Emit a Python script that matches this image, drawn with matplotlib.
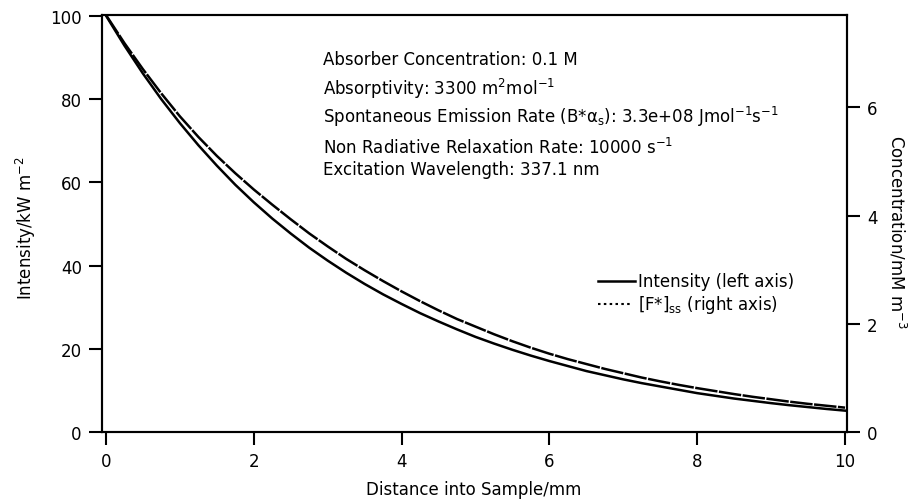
import numpy as np
import matplotlib
matplotlib.use('Agg')
import matplotlib.pyplot as plt
from matplotlib.lines import Line2D

plt.rcParams['font.family'] = ['DejaVu Sans']
plt.rcParams['mathtext.default'] = 'regular'

# distancia (mm), passo de 0.25
distance = [0, 0.25, 0.5, 0.75, 1, 1.25, 1.5, 1.75, 2, 2.25, 2.5, 2.75,
            3, 3.25, 3.5, 3.75, 4, 4.25, 4.5, 4.75, 5, 5.25, 5.5, 5.75,
            6, 6.25, 6.5, 6.75, 7, 7.25, 7.5, 7.75, 8, 8.25, 8.5, 8.75,
            9, 9.25, 9.5, 9.75, 10]
# intensidade (kW m-2), eixo esquerdo
intensity = [100, 92.8, 86.1, 79.9, 74.2, 68.9, 64.0, 59.4, 55.2, 51.3, 47.7, 44.3,
             41.2, 38.3, 35.6, 33.1, 30.8, 28.6, 26.6, 24.7, 22.9, 21.3, 19.8, 18.4,
             17.1, 15.9, 14.7, 13.7, 12.7, 11.8, 11.0, 10.2, 9.4, 8.75, 8.1, 7.55,
             7.0, 6.5, 6.05, 5.6, 5.2]
# [F*]ss (mM m-3), eixo direito
conc = [7.70, 7.18, 6.70, 6.25, 5.83, 5.45, 5.10, 4.78, 4.48, 4.20, 3.93, 3.67,
        3.43, 3.20, 2.99, 2.79, 2.60, 2.42, 2.25, 2.09, 1.95, 1.81, 1.68, 1.56,
        1.45, 1.35, 1.26, 1.17, 1.09, 1.01, 0.94, 0.875, 0.815, 0.76, 0.705, 0.655,
        0.61, 0.565, 0.525, 0.49, 0.455]

left_ticks = [0, 20, 40, 60, 80, 100]
right_ticks = [0, 2, 4, 6]
x_ticks = [0, 2, 4, 6, 8, 10]

notes = ['Absorber Concentration: 0.1 M',
         'Absorptivity: 3300 m$^{2}$mol$^{-1}$',
         r'Spontaneous Emission Rate (B*$\alpha_{s}$): 3.3e+08 Jmol$^{-1}$s$^{-1}$',
         'Non Radiative Relaxation Rate: 10000 s$^{-1}$',
         'Excitation Wavelength: 337.1 nm']
notes_y = [60, 89, 117, 148, 170]   # pixels a partir do topo

W, H = 916, 502
fig = plt.figure(figsize=(W / 100, H / 100), dpi=100)
ax = fig.add_axes([102 / W, 1 - 433.3 / H, 745 / W, 417.3 / H])
ax2 = ax.twinx()

ax.plot(distance, intensity, color='k', lw=1.8)
ax2.plot(distance, conc, color='k', lw=1.8, linestyle=(0, (9, 0.6)))

ax.set_xlim(-0.054, 10.027)
ax.set_ylim(0, 100.15)
ax2.set_ylim(0, 7.70)

ax.set_xticks(x_ticks)
ax.set_yticks(left_ticks)
ax2.set_yticks(right_ticks)

for a in (ax, ax2):
    for s in a.spines.values():
        s.set_linewidth(1.5)
    a.tick_params(direction='out', length=9.5, width=1.5, labelsize=12, pad=5)

fs = 12
fig.text(474 / W, 1 - 490 / H, 'Distance into Sample/mm', ha='center', va='center', fontsize=fs)
fig.text(26 / W, 1 - 228 / H, 'Intensity/kW m$^{-2}$', ha='center', va='center',
         rotation=90, fontsize=fs)
fig.text(897 / W, 1 - 232 / H, 'Concentration/mM m$^{-3}$', ha='center', va='center',
         rotation=270, fontsize=fs)

for txt, yy in zip(notes, notes_y):
    fig.text(323 / W, 1 - yy / H, txt, ha='left', va='center', fontsize=fs)

# legenda
fig.add_artist(Line2D([598 / W, 635 / W], [1 - 282 / H] * 2, transform=fig.transFigure,
                      color='k', lw=1.8))
fig.add_artist(Line2D([598 / W, 633 / W], [1 - 305 / H] * 2, transform=fig.transFigure,
                      color='k', lw=1.5, linestyle=(0, (1.2, 1.6))))
fig.text(638 / W, 1 - 282 / H, 'Intensity (left axis)', ha='left', va='center', fontsize=fs)
fig.text(638 / W, 1 - 305 / H, '[F*]$_{ss}$ (right axis)', ha='left', va='center', fontsize=fs)

fig.savefig('out.png', dpi=100)
